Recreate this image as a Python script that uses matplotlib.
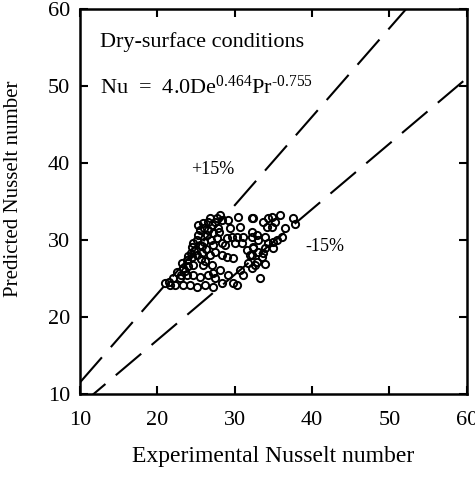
import matplotlib
matplotlib.use("Agg")
import matplotlib.pyplot as plt
import numpy as np

plt.rcParams['font.family'] = ['Liberation Serif', 'DejaVu Serif']
plt.rcParams['mathtext.fontset'] = 'custom'
plt.rcParams['mathtext.rm'] = 'Liberation Serif'
plt.rcParams['mathtext.it'] = 'Liberation Serif:italic'

# Experimental vs predicted Nusselt numbers (dry-surface tests)
nu_exp = [21.0, 21.6, 22.3, 23.3, 24.2, 25.1, 26.2, 27.2, 28.4, 29.8, 30.3,
          22.9, 23.8, 24.6, 25.5, 26.6, 27.2, 28.1, 27.5, 22.5, 23.3, 23.2,
          23.8, 24.5, 25.1, 25.8, 25.9, 24.6, 27.1, 29.1, 30.7, 31.1, 32.0,
          32.9, 31.7, 31.6, 32.4, 33.0, 24.5, 24.6, 25.1, 25.3, 25.5, 25.3,
          25.9, 26.6, 27.1, 26.6, 26.4, 27.2, 27.7, 28.1, 28.4, 27.9, 27.7,
          29.0, 29.1, 29.4, 29.7, 30.4, 30.7, 30.3, 31.1, 31.0, 30.1, 28.8,
          28.4, 27.2, 32.3, 32.3, 32.9, 28.4, 29.0, 29.8,
          32.4, 33.7, 34.3, 34.8, 35.2, 34.8, 34.2, 35.9, 37.6, 37.8, 36.5,
          36.1, 35.5, 35.0, 34.3, 33.9, 32.3, 33.0, 35.0, 33.9, 33.7, 32.4,
          32.3, 33.5, 33.9, 32.6, 33.3, 32.3,
          23.6, 24.0, 24.3, 24.8, 24.0, 25.5, 26.0, 25.7, 26.3, 26.8, 26.2,
          27.5, 23.0, 22.0, 21.5, 26.0, 26.8, 27.5, 28.0, 26.9, 25.8]
nu_pred = [24.4, 24.2, 24.2, 24.2, 24.2, 23.9, 24.2, 23.9, 24.4, 24.4, 24.2,
           25.1, 25.5, 25.5, 25.2, 25.5, 25.7, 26.1, 25.1, 25.8, 26.4, 27.0,
           27.4, 27.8, 28.1, 28.3, 26.8, 26.8, 26.8, 25.5, 26.1, 25.5, 28.1,
           27.1, 27.0, 28.7, 29.0, 28.4, 29.1, 29.6, 30.0, 30.6, 31.3, 31.9,
           32.2, 32.3, 31.9, 31.3, 30.6, 30.9, 32.9, 33.2, 32.6, 31.6, 30.3,
           30.3, 32.6, 31.6, 30.4, 33.0, 31.7, 30.4, 30.4, 29.6, 29.6, 29.4,
           29.6, 29.4, 32.9, 31.0, 30.6, 28.1, 27.8, 27.7,
           32.9, 32.3, 32.9, 33.0, 32.3, 31.7, 31.7, 33.2, 32.9, 32.1, 31.6,
           30.4, 30.0, 29.7, 29.6, 30.4, 30.4, 30.0, 29.0, 29.0, 28.3, 29.1,
           28.1, 27.8, 26.9, 26.8, 25.1, 26.4,
           26.0, 26.6, 28.3, 28.6, 27.9, 29.3, 29.8, 27.5, 28.8, 28.0, 27.3,
           28.5, 25.5, 25.0, 24.6, 31.5, 32.8, 32.3, 31.0, 30.0, 29.2]

band_factors = [1.15, 0.85]
band_labels = ['+15%', '-15%']

fig = plt.figure(figsize=(4.75, 4.84), dpi=100)
ax = fig.add_axes([0.1684, 0.186, 0.8141, 0.7954])

ax.plot(nu_exp, nu_pred, linestyle='none', marker='o', markersize=5.2,
        markerfacecolor='none', markeredgecolor='black', markeredgewidth=1.4)

xx = np.array([10, 60])
for f in band_factors:
    ax.plot(xx, f * xx, color='black', linewidth=1.5, dashes=(16, 6.5))

ax.set_xlim(10, 60)
ax.set_ylim(10, 60)
ax.set_xticks([10, 20, 30, 40, 50, 60])
ax.set_yticks([10, 20, 30, 40, 50, 60])
ax.tick_params(direction='in', length=6, width=1.5, labelsize=16,
               top=True, right=True)
ax.tick_params(axis='x', pad=12)
ax.tick_params(axis='y', pad=7)
for s in ax.spines.values():
    s.set_linewidth(1.8)

ax.set_xlabel('Experimental Nusselt number', fontsize=17, labelpad=12)
ax.set_ylabel('Predicted Nusselt number', fontsize=15)
ax.yaxis.set_label_coords(-0.147, 0.532)

ax.text(12.6, 55.7, 'Dry-surface conditions', fontsize=16, va='center')
ax.text(12.6, 49.9, r'Nu  =  4.0De$^{0.464}$Pr$^{\text{-}0.755}$',
        fontsize=16, va='center')
ax.text(27.2, 39.2, band_labels[0], fontsize=13, va='center', ha='center')
ax.text(41.7, 29.2, band_labels[1], fontsize=13, va='center', ha='center')

fig.savefig('out.png', dpi=100)
